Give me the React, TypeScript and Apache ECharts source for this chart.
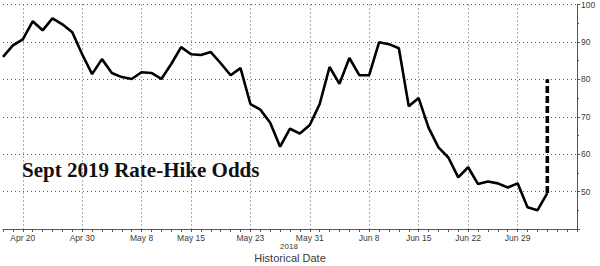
import React, { useEffect, useRef } from "react";
import * as echarts from "echarts";

const categories = [
  "Apr 18", "Apr 19", "Apr 20", "Apr 23", "Apr 24", "Apr 25", "Apr 26", "Apr 27", "Apr 30",
  "May 1", "May 2", "May 3", "May 4", "May 7", "May 8", "May 9", "May 10", "May 11",
  "May 14", "May 15", "May 16", "May 17", "May 18", "May 21", "May 22", "May 23", "May 24",
  "May 25", "May 28", "May 29", "May 30", "May 31", "Jun 1", "Jun 4", "Jun 5", "Jun 6",
  "Jun 7", "Jun 8", "Jun 11", "Jun 12", "Jun 13", "Jun 14", "Jun 15", "Jun 18", "Jun 19",
  "Jun 20", "Jun 21", "Jun 22", "Jun 25", "Jun 26", "Jun 27", "Jun 28", "Jun 29", "Jul 2",
  "Jul 3", "Jul 4", "Jul 5", "Jul 6", "Jul 9",
];

const labeledDates = [
  "Apr 20", "Apr 30", "May 8", "May 15", "May 23", "May 31", "Jun 8", "Jun 15", "Jun 22", "Jun 29",
];

const odds: (number | null)[] = [
  86, 89.1, 90.7, 95.5, 93.1, 96.3, 94.7, 92.6, 86.7, 81.4,
  85.4, 81.7, 80.6, 80.1, 81.9, 81.7, 80.1, 84.1, 88.6, 86.7,
  86.5, 87.3, 84.3, 81.1, 83, 73.4, 71.9, 68.4, 62, 66.8,
  65.5, 67.8, 73.4, 83.3, 78.8, 85.7, 81.1, 81.1, 89.9, 89.4,
  88.3, 72.8, 75, 67.1, 61.8, 59.1, 53.8, 56.5, 52, 52.7,
  52.2, 51.1, 52.2, 45.8, 45, 49.6, null, null, null,
];

const jumpDate = "Jul 4";
const jumpValues = [49.6, 80];

const yTicks = [40, 50, 60, 70, 80, 90, 100];
const titleText = "Sept 2019 Rate-Hike Odds";
const yearText = "2018";
const axisTitle = "Historical Date";

export default function App() {
  const ref = useRef<HTMLDivElement>(null);
  useEffect(() => {
    if (!ref.current) return;
    const chart = echarts.init(ref.current, undefined, { renderer: "svg" });
    const labelIdx = new Set(labeledDates.map((d) => categories.indexOf(d)));
    const jumpIdx = categories.indexOf(jumpDate);
    const gridColor = "#5a5a5a";
    chart.setOption({
      animation: false,
      backgroundColor: "#ffffff",
      grid: { left: 3, right: 23, top: 3, bottom: 37 },
      xAxis: {
        type: "category",
        data: categories,
        boundaryGap: false,
        axisLine: { show: true, lineStyle: { color: "#555", width: 1 } },
        axisTick: { show: true, interval: 0, length: 3, lineStyle: { color: "#555" } },
        axisLabel: {
          interval: (i: number) => labelIdx.has(i),
          color: "#3a3a3a",
          fontFamily: "Liberation Sans",
          fontSize: 8.5,
          margin: 4,
        },
        splitLine: {
          show: true,
          interval: (i: number) => labelIdx.has(i),
          lineStyle: { color: gridColor, type: [1, 3], width: 1 },
        },
      },
      yAxis: {
        type: "value",
        position: "right",
        min: yTicks[0],
        max: yTicks[yTicks.length - 1],
        interval: 10,
        axisLine: { show: true, lineStyle: { color: "#555", width: 1 } },
        axisTick: { show: true, length: 3, lineStyle: { color: "#555" } },
        minorTick: { show: true, splitNumber: 2, length: 2, lineStyle: { color: "#555" } },
        axisLabel: {
          color: "#3a3a3a",
          fontFamily: "Liberation Sans",
          fontSize: 8.5,
          margin: 4,
          formatter: (v: number) => (v === yTicks[0] ? "" : String(v)),
        },
        splitLine: { show: true, lineStyle: { color: gridColor, type: [1, 3], width: 1 } },
      },
      series: [
        {
          type: "line",
          data: odds,
          symbol: "none",
          lineStyle: { color: "#000", width: 2.6 },
          z: 3,
        },
        {
          type: "line",
          data: jumpValues.map((v) => [jumpIdx, v]),
          symbol: "none",
          lineStyle: { color: "#000", width: 3.6, type: [7, 3] },
          z: 4,
        },
      ],
      graphic: [
        {
          type: "text",
          left: 22,
          top: 159,
          style: {
            text: titleText,
            font: "bold 21px 'Liberation Serif'",
            fill: "#111",
          },
        },
        {
          type: "text",
          x: 289,
          y: 246,
          style: {
            text: yearText,
            font: "8px 'Liberation Sans'",
            fill: "#3a3a3a",
            align: "center",
            verticalAlign: "middle",
          },
        },
        {
          type: "text",
          x: 290,
          y: 258,
          style: {
            text: axisTitle,
            font: "11px 'Liberation Sans'",
            fill: "#3a3a3a",
            align: "center",
            verticalAlign: "middle",
          },
        },
      ],
    });
    return () => chart.dispose();
  }, []);
  return (
    <div
      ref={ref}
      style={{ position: "fixed", left: 0, top: 0, width: 600, height: 266 }}
    />
  );
}
